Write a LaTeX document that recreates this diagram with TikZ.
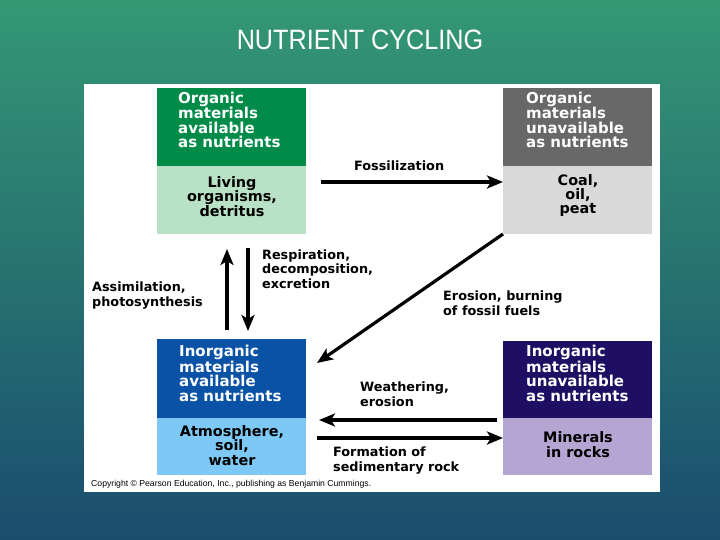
\documentclass[tikz,border=0pt]{standalone}
\usepackage{fontspec}
\usetikzlibrary{arrows.meta,calc}
\newfontfamily\dvs{DejaVu Sans}
\newfontfamily\lsans{Liberation Sans}
\definecolor{bgtop}{RGB}{52,152,116}
\definecolor{bgmid}{RGB}{40,128,118}
\definecolor{bgbot}{RGB}{26,76,110}
\definecolor{dgreen}{RGB}{0,140,72}
\definecolor{lgreen}{RGB}{185,225,197}
\definecolor{dgray}{RGB}{104,104,104}
\definecolor{lgray}{RGB}{217,217,217}
\definecolor{dblue}{RGB}{10,82,166}
\definecolor{lblue}{RGB}{125,200,245}
\definecolor{dnavy}{RGB}{30,15,100}
\definecolor{lpurple}{RGB}{180,165,210}
\tikzset{
  box/.style={rectangle, inner sep=0pt, outer sep=0pt, anchor=north west, minimum width=149pt},
  wtext/.style={anchor=base west, align=left, inner sep=0pt, text=white,
    font={\dvs\bfseries\fontsize{15}{14.5}\selectfont}},
  btext/.style={anchor=base, align=center, inner sep=0pt, text=black,
    font={\dvs\bfseries\fontsize{14.4}{14.4}\selectfont}},
  lbl/.style={anchor=base west, align=left, inner sep=0pt, text=black,
    font={\dvs\bfseries\fontsize{12.8}{14.4}\selectfont}},
  arr/.style={line width=3.2pt, -{Stealth[length=16pt,width=13pt,inset=4pt]}},
}
\begin{document}
\begin{tikzpicture}[x=1pt,y=-1pt]
\useasboundingbox (0,0) rectangle (720,540);
\shade[top color=bgtop, middle color=bgmid, bottom color=bgbot] (0,0) rectangle (720,540);
% title
\node[anchor=base, inner sep=0pt, text=white] (title) at (360,50)
  {\scalebox{0.9}[1]{\lsans\fontsize{28}{30}\selectfont NUTRIENT CYCLING}};
% white panel
\fill[white] (84,84) rectangle (660,492);
% boxes
\node[box, fill=dgreen, minimum height=78pt] (oa) at (157,88) {};
\node[box, fill=lgreen, minimum height=68pt] (oal) at (157,166) {};
\node[box, fill=dgray, minimum height=78pt] (cu) at (503,88) {};
\node[box, fill=lgray, minimum height=68pt] (cl) at (503,166) {};
\node[box, fill=dblue, minimum height=79pt] (ia) at (157,339) {};
\node[box, fill=lblue, minimum height=57pt] (ial) at (157,418) {};
\node[box, fill=dnavy, minimum height=77pt] (iu) at (503,341) {};
\node[box, fill=lpurple, minimum height=57pt] (mi) at (503,418) {};
% box texts (anchored at the baseline of the last line)
\node[wtext] (t1) at (178,148) {Organic\\materials\\available\\as nutrients};
\node[btext] (t2) at (232,216) {Living\\organisms,\\detritus};
\node[wtext] (t3) at (526,148) {Organic\\materials\\unavailable\\as nutrients};
\node[btext] (t4) at (578,214) {Coal,\\oil,\\peat};
\node[wtext] (t5) at (179,401) {Inorganic\\materials\\available\\as nutrients};
\node[btext] (t6) at (232,465) {Atmosphere,\\soil,\\water};
\node[wtext] (t7) at (526,401) {Inorganic\\materials\\unavailable\\as nutrients};
\node[btext] (t8) at (578,457) {Minerals\\in rocks};
% labels
\node[lbl] (l1) at (354,171) {Fossilization};
\node[lbl] (l2) at (262,288) {Respiration,\\decomposition,\\excretion};
\node[lbl] (l3) at (92,306) {Assimilation,\\photosynthesis};
\node[lbl] (l4) at (443,315) {Erosion, burning\\of fossil fuels};
\node[lbl] (l5) at (360,406) {Weathering,\\erosion};
\node[lbl] (l6) at (333,471) {Formation of\\sedimentary rock};
% arrows
\draw[arr] ($(oal.north east)+(15,16)$) -- ($(cl.north west)+(0,16)$);
\draw[arr] ($(ia.north west)+(70,-9)$) -- ($(oal.south west)+(70,15)$);
\draw[arr] ($(oal.south west)+(91,14)$) -- ($(ia.north west)+(91,-8)$);
\draw[arr] (cl.south west) -- ($(ia.north east)+(11,24)$);
\draw[arr] ($(mi.north west)+(-6,2)$) -- ($(ial.north east)+(13,2)$);
\draw[arr] ($(ial.north east)+(11,20)$) -- ($(mi.north west)+(0,20)$);
% copyright and slide number
\node[anchor=base west, inner sep=0pt] (copy) at (91,486)
  {\resizebox{280pt}{!}{\lsans\fontsize{8}{9}\selectfont Copyright \textcopyright{} Pearson Education, Inc., publishing as Benjamin Cummings.}};
\node[anchor=base, inner sep=0pt, text=white] (num) at (632,481) {\lsans\fontsize{8}{9}\selectfont 12};
\end{tikzpicture}
\end{document}
